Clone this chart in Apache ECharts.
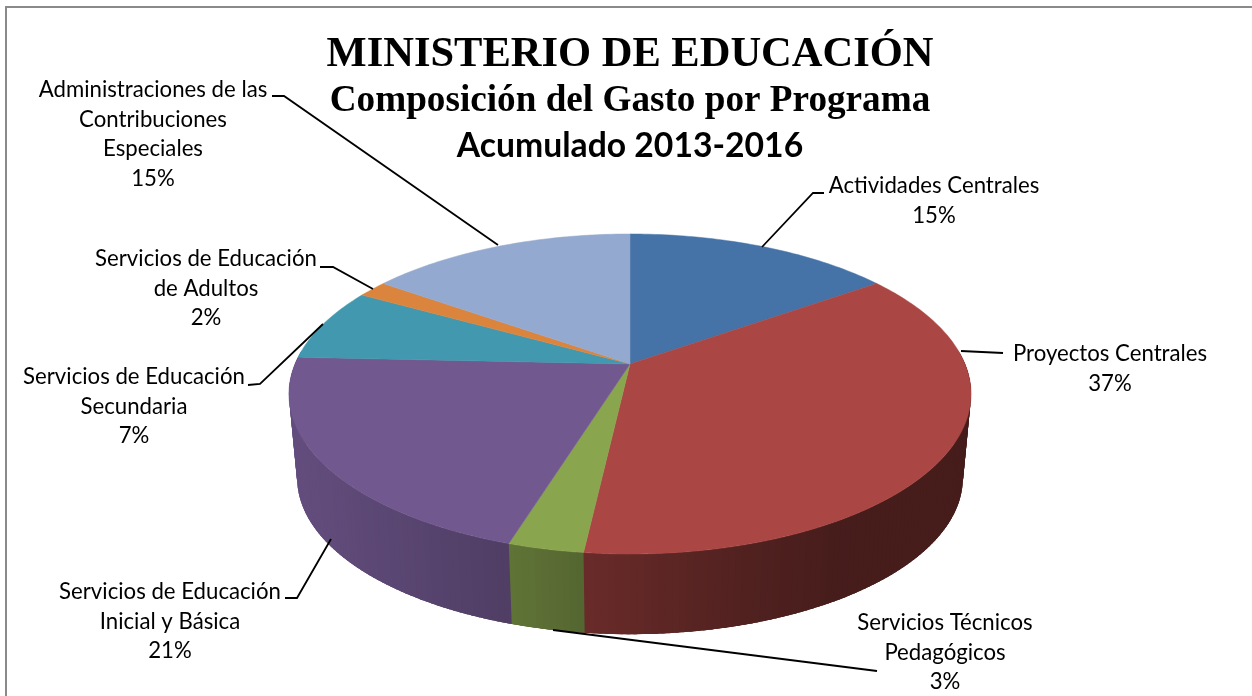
<!DOCTYPE html>
<html>
<head>
<meta charset="utf-8">
<style>html,body{margin:0;padding:0;background:#fff}#c{width:1252px;height:696px}</style>
<script src="https://cdn.jsdelivr.net/npm/echarts@6/dist/echarts.min.js"></script>
</head>
<body>
<div id="c"></div>
<script>
const categories = ['Actividades Centrales','Proyectos Centrales','Servicios Técnicos Pedagógicos','Servicios de Educación Inicial y Básica','Servicios de Educación Secundaria','Servicios de Educación de Adultos','Administraciones de las Contribuciones Especiales'];
const labelLines = [['Actividades Centrales'],['Proyectos Centrales'],['Servicios Técnicos','Pedagógicos'],['Servicios de Educación','Inicial y Básica'],['Servicios de Educación','Secundaria'],['Servicios de Educación','de Adultos'],['Administraciones de las','Contribuciones','Especiales']];
const values = [15.2,36.6,3.0,20.9,7.4,1.7,15.2];
const colors = ['#4572A7','#AA4643','#89A54E','#71588F','#4198AF','#DB843D','#93A9CF'];
const titles = ['MINISTERIO DE EDUCACIÓN','Composición del Gasto por Programa','Acumulado 2013-2016'];

// label placement: centre x, first-line y, leader polyline
const layout = [
 {x:934,y:186,line:[[824,193],[813,193],[762,247]]},
 {x:1110,y:354,line:[[1003,353],[961,351]]},
 {x:945,y:623,line:[[877,671],[553,630]]},
 {x:170,y:592,line:[[285,598],[297,598],[331,539]]},
 {x:134,y:377,line:[[248,385],[260,384],[323,324]]},
 {x:206,y:259,line:[[320,267],[333,267],[373,289]]},
 {x:153,y:90,line:[[272,96],[284,96],[498,245]]}
];

// pie projection
const CX=630, CY=364, K=0.1875, H=154.4, R=335, ELL_CY=394, DROP=84, SHRINK=0.976;
function rim(deg){
  const a=deg*Math.PI/180, u=Math.sin(a), v=-Math.cos(a), w=1-K*v;
  return [CX+R*u/w, CY+H*v/w];
}
function floor(p){ return [CX+(p[0]-CX)*SHRINK, ELL_CY+DROP+(p[1]-ELL_CY)*SHRINK]; }
const shadeStops=[[290,.88],[510,.70],[583,.62],[750,.47],[850,.41],[975,.41]];
function shade(x){
  for(let i=1;i<shadeStops.length;i++){
    if(x<=shadeStops[i][0]){
      const a=shadeStops[i-1],b=shadeStops[i];
      return a[1]+(b[1]-a[1])*Math.max(0,(x-a[0]))/(b[0]-a[0]);
    }
  }
  return .41;
}
function dark(hex,f){
  const n=parseInt(hex.slice(1),16);
  return 'rgb('+[(n>>16)&255,(n>>8)&255,n&255].map(c=>Math.round(c*f)).join(',')+')';
}
const total=values.reduce((a,b)=>a+b,0);
const FONT='Lato';

function renderItem(params,api){
  const i=params.dataIndex, val=api.value(0);
  let before=0; for(let k=0;k<i;k++) before+=values[k];
  const a0=before/total*360, a1=(before+val)/total*360;
  const children=[];
  // outer wall: overlapping strips, painted in order so no seams show
  const lo=Math.max(a0,85), hi=Math.min(a1,275), step=1;
  for(let s=lo;s<hi-1e-6;s+=step){
    const e=Math.min(s+step*2.5,275), p0=rim(s), p1=rim(e), m=rim(s+step/2), c=dark(colors[i],shade(m[0]));
    children.push({type:'polygon',z2:1,shape:{points:[p0,rim((s+e)/2),p1,floor(p1),floor(rim((s+e)/2)),floor(p0)]},style:{fill:c}});
  }
  // top face
  const pts=[[CX,CY]];
  for(let d=a0;d<a1;d+=1) pts.push(rim(d));
  pts.push(rim(a1));
  children.push({type:'polygon',z2:2,shape:{points:pts},style:{fill:colors[i],stroke:colors[i],lineWidth:.5}});
  // leader and label
  const L=layout[i];
  children.push({type:'polyline',z2:3,shape:{points:L.line},style:{fill:null,stroke:'#000',lineWidth:1.8}});
  const lines=labelLines[i].concat([Math.round(val/total*100)+'%']);
  lines.forEach((t,n)=>children.push({type:'text',z2:4,style:{text:t,x:L.x,y:L.y+n*29.5,align:'center',verticalAlign:'middle',fill:'#000',font:'22.2px '+FONT}}));
  return {type:'group',children:children};
}

const chart=echarts.init(document.getElementById('c'),null,{renderer:'canvas'});
chart.setOption({
  animation:false,
  backgroundColor:'#fff',
  title:[
    {text:titles[0],left:625,top:29,textAlign:'center',textStyle:{fontFamily:'Liberation Serif',fontWeight:'bold',fontSize:42.5,color:'#000'}},
    {text:titles[1],left:625,top:78,textAlign:'center',textStyle:{fontFamily:'Liberation Serif',fontWeight:'bold',fontSize:37.2,color:'#000'}},
    {text:titles[2],left:625,top:124,textAlign:'center',textStyle:{fontFamily:FONT,fontWeight:'bold',fontSize:33.7,color:'#000'}}
  ],
  graphic:[{type:'polyline',z:0,shape:{points:[[6,696],[6,7],[1252,7]]},style:{fill:null,stroke:'#8a8a8a',lineWidth:2}}],
  series:[{type:'custom',coordinateSystem:'none',name:'Gasto',silent:true,clip:false,
    data:categories.map((n,i)=>({name:n,value:[values[i]]})),
    renderItem:renderItem}]
});
</script>
</body>
</html>
